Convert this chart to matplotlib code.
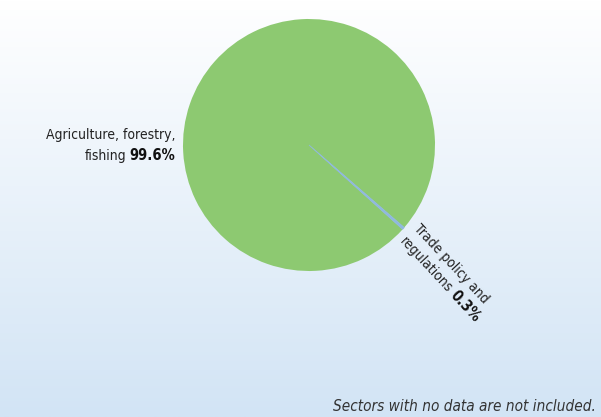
import numpy as np
import matplotlib
matplotlib.use("Agg")
import matplotlib.pyplot as plt
from matplotlib.colors import LinearSegmentedColormap

# data
sectors = ["Trade policy and regulations", "Agriculture, forestry, fishing"]
shares = [0.3, 99.6]
colours = ["#8fb8de", "#8dc971"]

W, H, DPI = 601, 417, 100
FONT = ["DejaVu Sans"]
STRETCH = "condensed"

fig = plt.figure(figsize=(W / DPI, H / DPI), dpi=DPI)

# background gradient
bg = fig.add_axes([0, 0, 1, 1])
grad = np.linspace(0, 1, 256).reshape(-1, 1)
cmap = LinearSegmentedColormap.from_list("bg", ["#ffffff", "#d2e4f5"])
bg.imshow(grad, aspect="auto", cmap=cmap, extent=[0, 1, 0, 1], origin="upper")
bg.set_axis_off()

# pie, centre (309,145) px, radius 126 px
cx, cy, r = 309, 145, 126
ax = fig.add_axes([(cx - r) / W, (H - cy - r) / H, 2 * r / W, 2 * r / H])
wedges, _ = ax.pie(shares, colors=colours, startangle=-42, counterclock=True,
                   wedgeprops=dict(linewidth=0))
# thin slice gets an outline of its own colour so it stays visible
wedges[0].set_edgecolor(colours[0])
wedges[0].set_linewidth(0.6)
wedges[0].set_zorder(3)
ax.set_xlim(-1, 1)
ax.set_ylim(-1, 1)
ax.set_axis_off()

renderer = fig.canvas.get_renderer()


def px(x, y):
    return x / W, 1 - y / H


def width_px(s, **kw):
    t = fig.text(0, 0, s, **kw)
    w = t.get_window_extent(renderer).width
    t.remove()
    return w


fs = 10
base = dict(fontsize=fs, family=FONT, fontstretch=STRETCH, color="#222222")
# left label, right aligned
fig.text(*px(176, 139), "Agriculture, forestry,", ha="right", va="baseline", **base)
bold = "%.1f%%" % shares[1]
fig.text(*px(175, 160), bold, ha="right", va="baseline",
         **dict(base, fontsize=10.5, weight="bold", color="#111111"))
wb = width_px(bold, **dict(base, fontsize=10.5, weight="bold"))
fig.text(*px(175 - wb - 3, 160), "fishing", ha="right", va="baseline", **base)

# rotated label
rot = -47
d = np.array([np.cos(np.radians(rot)), -np.sin(np.radians(rot))])  # image coords
down = np.array([-d[1], d[0]])
p1 = np.array([413.0, 229.0])
p2 = p1 + down * 19
kw = dict(base, rotation=rot, rotation_mode="anchor", ha="left", va="baseline")
fig.text(*px(*p1), "Trade policy and", **kw)
fig.text(*px(*p2), "regulations", **kw)
wr = width_px("regulations ", **base)
p3 = p2 + d * wr
fig.text(*px(*p3), "%.1f%%" % shares[0],
         **dict(kw, fontsize=10.5, weight="bold", color="#111111"))

fig.text(*px(596, 411), "Sectors with no data are not included.", ha="right",
         va="baseline", **dict(base, fontsize=11, style="italic", color="#333333"))

fig.savefig("out.png", dpi=DPI)
